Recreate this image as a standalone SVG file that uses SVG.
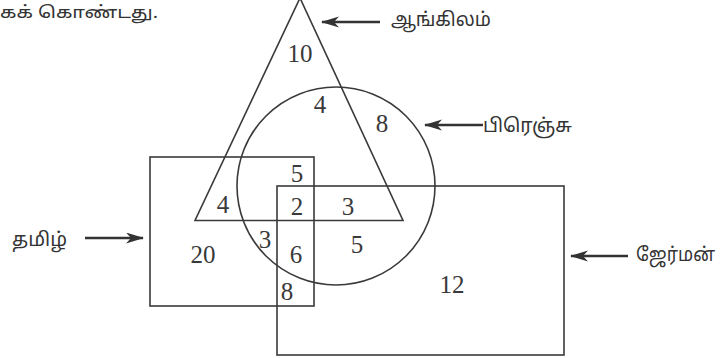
<svg xmlns="http://www.w3.org/2000/svg" width="720" height="358" viewBox="0 0 720 358">
<style>
.shape{fill:none;stroke:#3a3a3a;stroke-width:1.6}
.arrow{fill:none;stroke:#333;stroke-width:2.6}
.num{font-family:"Liberation Serif","Times New Roman",serif;font-size:25px;fill:#3a3a3a;text-anchor:middle}
.lbl{font-family:"Noto Sans","Noto Sans Tamil","Lohit Tamil",sans-serif;font-size:19px;fill:#333}
</style>
<defs>
<marker id="ah" markerUnits="userSpaceOnUse" markerWidth="20" markerHeight="12" refX="17" refY="5.5" orient="auto">
<path d="M0,0 L18,5.5 L0,11 L5,5.5 Z" fill="#333"/>
</marker>
</defs>
<rect width="720" height="358" fill="#fff"/>
<text class="lbl" x="0" y="18" style="font-size:17px" textLength="158" lengthAdjust="spacingAndGlyphs">கக் கொண்டது.</text>
<g id="english">
<polygon class="shape" points="300,-2 195,220.5 403,220.5"/>
<text class="lbl" x="391" y="26" textLength="100" lengthAdjust="spacingAndGlyphs">ஆங்கிலம்</text>
</g>
<g id="french">
<circle class="shape" cx="336" cy="186" r="99"/>
<text class="lbl" x="483" y="132" textLength="89" lengthAdjust="spacingAndGlyphs">பிரெஞ்சு</text>
</g>
<g id="tamil">
<rect class="shape" x="150" y="157" width="164" height="149"/>
<text class="lbl" x="12" y="246" textLength="55" lengthAdjust="spacingAndGlyphs">தமிழ்</text>
</g>
<g id="german">
<rect class="shape" x="277" y="186" width="287" height="169"/>
<text class="lbl" x="636" y="261" textLength="79" lengthAdjust="spacingAndGlyphs">ஜேர்மன்</text>
</g>
<g id="connectors">
<line class="arrow" x1="380" y1="22" x2="322" y2="22" marker-end="url(#ah)"/>
<line class="arrow" x1="483" y1="125" x2="425" y2="125" marker-end="url(#ah)"/>
<line class="arrow" x1="85" y1="238" x2="143" y2="238" marker-end="url(#ah)"/>
<line class="arrow" x1="628" y1="256" x2="571" y2="256" marker-end="url(#ah)"/>
</g>
<g id="numbers">
<text class="num" x="300" y="62">10</text>
<text class="num" x="320" y="113">4</text>
<text class="num" x="382" y="132">8</text>
<text class="num" x="297" y="182">5</text>
<text class="num" x="223" y="213">4</text>
<text class="num" x="297" y="215">2</text>
<text class="num" x="348" y="215">3</text>
<text class="num" x="265" y="248">3</text>
<text class="num" x="296" y="263">6</text>
<text class="num" x="357" y="253">5</text>
<text class="num" x="203" y="263">20</text>
<text class="num" x="287" y="300">8</text>
<text class="num" x="452" y="293">12</text>
</g>
</svg>
